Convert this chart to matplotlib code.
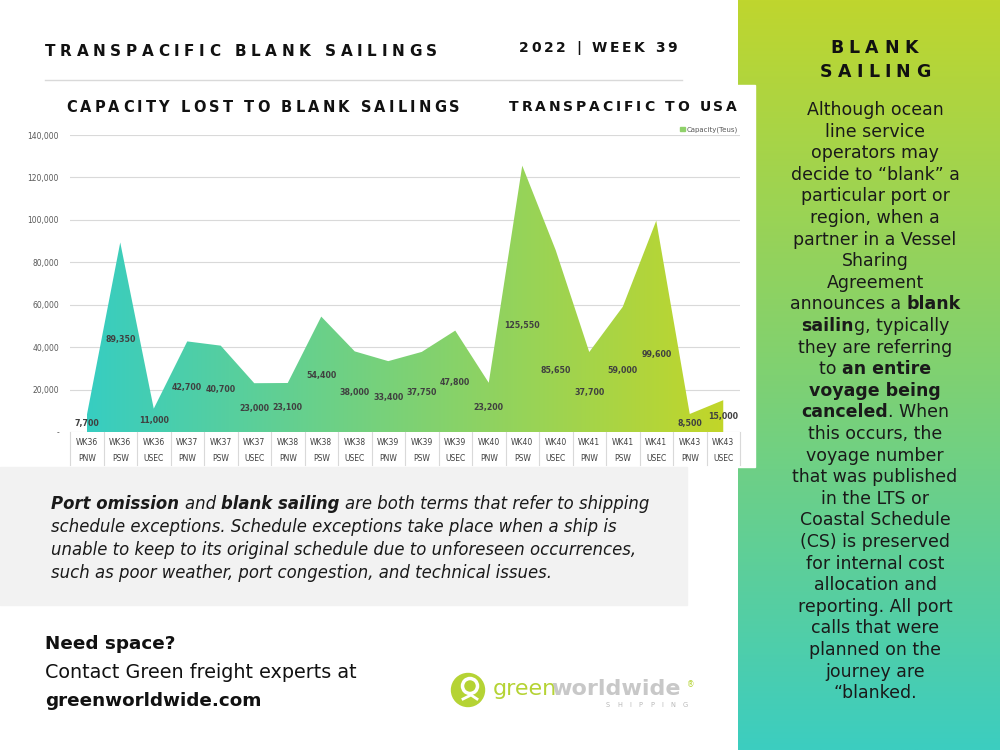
import numpy as np
import matplotlib
matplotlib.use("Agg")
import matplotlib.pyplot as plt
from matplotlib import transforms
from matplotlib.colors import LinearSegmentedColormap
from matplotlib.font_manager import FontProperties
from matplotlib.patches import Rectangle, Circle, Patch

FONT = "DejaVu Sans"
plt.rcParams["font.family"] = FONT

# data
weeks = ["WK36", "WK36", "WK36", "WK37", "WK37", "WK37", "WK38", "WK38", "WK38", "WK39",
         "WK39", "WK39", "WK40", "WK40", "WK40", "WK41", "WK41", "WK41", "WK43", "WK43"]
regions = ["PNW", "PSW", "USEC", "PNW", "PSW", "USEC", "PNW", "PSW", "USEC", "PNW",
           "PSW", "USEC", "PNW", "PSW", "USEC", "PNW", "PSW", "USEC", "PNW", "USEC"]
capacity = [7700, 89350, 11000, 42700, 40700, 23000, 23100, 54400, 38000, 33400,
            37750, 47800, 23200, 125550, 85650, 37700, 59000, 99600, 8500, 15000]
y_ticks = [0, 20000, 40000, 60000, 80000, 100000, 120000, 140000]

body_lines = [
    [("Although ocean", "normal")],
    [("line service", "normal")],
    [("operators may", "normal")],
    [("decide to \u201cblank\u201d a", "normal")],
    [("particular port or", "normal")],
    [("region, when a", "normal")],
    [("partner in a Vessel", "normal")],
    [("Sharing", "normal")],
    [("Agreement", "normal")],
    [("announces a ", "normal"), ("blank", "bold")],
    [("sailin", "bold"), ("g, typically", "normal")],
    [("they are referring", "normal")],
    [("to ", "normal"), ("an entire", "bold")],
    [("voyage being", "bold")],
    [("canceled", "bold"), (". When", "normal")],
    [("this occurs, the", "normal")],
    [("voyage number", "normal")],
    [("that was published", "normal")],
    [("in the LTS or", "normal")],
    [("Coastal Schedule", "normal")],
    [("(CS) is preserved", "normal")],
    [("for internal cost", "normal")],
    [("allocation and", "normal")],
    [("reporting. All port", "normal")],
    [("calls that were", "normal")],
    [("planned on the", "normal")],
    [("journey are", "normal")],
    [("\u201cblanked.", "normal")],
]

note_lines = [
    [("Port omission ", "bold"), ("and ", "normal"), ("blank sailing ", "bold"),
     ("are both terms that refer to shipping", "normal")],
    [("schedule exceptions. Schedule exceptions take place when a ship is", "normal")],
    [("unable to keep to its original schedule due to unforeseen occurrences,", "normal")],
    [("such as poor weather, port congestion, and technical issues.", "normal")],
]

fig = plt.figure(figsize=(10, 7.5), dpi=100)
renderer = fig.canvas.get_renderer()

# page layer in pixel units
bg = fig.add_axes([0, 0, 1, 1])
bg.axis("off")

panel_cmap = LinearSegmentedColormap.from_list("panel", ["#bfd62e", "#7fd172", "#3ccdc0"])
bg.imshow(np.linspace(0, 1, 256).reshape(-1, 1), cmap=panel_cmap, aspect="auto",
          extent=(738, 1000, 750, 0), origin="upper", zorder=0)
bg.add_patch(Rectangle((0, 85), 755, 382, color="white", zorder=1))
bg.add_patch(Rectangle((0, 467), 687, 138, color="#f2f2f2", zorder=1))
bg.plot([45, 682], [80, 80], color="#d9d9d9", lw=1, zorder=2)
bg.set_xlim(0, 1000)
bg.set_ylim(750, 0)


def text_width(s, size, weight="normal", style="normal"):
    fp = FontProperties(family=FONT, size=size, weight=weight, style=style)
    bar = renderer.get_text_width_height_descent("|", fp, ismath=False)[0]
    full = renderer.get_text_width_height_descent("|" + s + "|", fp, ismath=False)[0]
    return full - 2 * bar


def rich_line(x, y, parts, size, ha="left", style="normal", color="#1a1a1a"):
    widths = [text_width(t, size, w, style) for t, w in parts]
    x0 = x - sum(widths) / 2 if ha == "center" else x
    for (t, w), wd in zip(parts, widths):
        bg.text(x0, y, t, fontsize=size, fontweight=w, fontstyle=style, color=color,
                ha="left", va="center", zorder=3)
        x0 += wd


def tracked(x0, x1, y, s, size, color="#111111", weight="bold"):
    widths = [text_width(c, size, weight) for c in s]
    gap = (x1 - x0 - sum(widths)) / (len(s) - 1)
    x = x0
    for c, w in zip(s, widths):
        if c != " ":
            bg.text(x, y, c, fontsize=size, fontweight=weight, color=color,
                    ha="left", va="center", zorder=3)
        x += w + gap


# headings
tracked(45, 437, 51, "TRANSPACIFIC BLANK SAILINGS", 11)
tracked(519, 677, 48, "2022 | WEEK 39", 10)
tracked(66, 460, 108, "CAPACITY LOST TO BLANK SAILINGS", 10.5)
tracked(509, 737, 107, "TRANSPACIFIC TO USA", 10)
tracked(830, 918, 48, "BLANK", 12.5)
tracked(820, 930, 72, "SAILING", 12.5)

# right panel copy
for k, parts in enumerate(body_lines):
    rich_line(875, 110 + k * 21.6, parts, 12.5, ha="center")

# grey note
for k, parts in enumerate(note_lines):
    rich_line(51, 504 + k * 23, parts, 11.9, style="italic")

# contact block
bg.text(45, 644, "Need space?", fontsize=13.2, fontweight="bold", color="#111111", va="center")
bg.text(45, 673, "Contact Green freight experts at", fontsize=13.8, color="#111111", va="center")
bg.text(45, 701, "greenworldwide.com", fontsize=13.2, fontweight="bold", color="#111111", va="center")

# logo
bg.add_patch(Circle((468, 690), 16.5, color="#b5d334", zorder=3))
bg.add_patch(Circle((470, 686), 7.5, fill=False, ec="white", lw=2.5, zorder=4))
bg.plot([463, 471, 477], [699, 695, 699], color="white", lw=2, zorder=4)
rich_line(493, 689, [("green", "normal")], 16, color="#b5d334")
gw = text_width("green", 16)
rich_line(493 + gw - 6, 689, [("worldwide", "bold")], 16, color="#c8c8c8")
bg.text(691, 685, "\u00ae", fontsize=5.5, color="#b5d334", ha="center", va="center", zorder=3)
tracked(606, 688, 705, "SHIPPING", 4.8, color="#b8b8b8", weight="normal")

# chart
ax = fig.add_axes([0.07, 0.424, 0.67, 0.396])
ax.patch.set_alpha(0)
x = np.arange(len(capacity))
area = ax.fill_between(x, capacity, 0, color="none", lw=0)
area_cmap = LinearSegmentedColormap.from_list("area", ["#37cdc1", "#c2d629"])
im = ax.imshow(np.linspace(0, 1, 256).reshape(1, -1), cmap=area_cmap, aspect="auto",
               extent=(0, len(capacity) - 1, 0, max(capacity)), origin="lower", zorder=2)
im.set_clip_path(area.get_paths()[0], transform=ax.transData)

ax.set_xlim(-0.5, len(capacity) - 0.5)
ax.set_ylim(0, 140000)
ax.set_yticks(y_ticks)
ax.set_yticklabels(["-" if v == 0 else f"{v:,}" for v in y_ticks])
ax.set_xticks([])
ax.tick_params(axis="y", length=0, pad=8, labelsize=5.5, labelcolor="#595959")
ax.yaxis.grid(True, color="#d9d9d9", lw=0.8)
ax.set_axisbelow(True)
for s in ax.spines.values():
    s.set_visible(False)

# data labels sit inside the area
lift = np.full(len(capacity), 0.49)
lift[[13, 14, 17]] = [0.40, 0.34, 0.365]
for i, v in enumerate(capacity):
    ax.text(i, v * lift[i], f"{v:,}", ha="center", va="center", fontsize=5.7,
            fontweight="bold", color="#404040", zorder=4)

# category table under the axis
blend = transforms.blended_transform_factory(ax.transData, ax.transAxes)
for b in np.arange(-0.5, len(capacity)):
    ax.plot([b, b], [0, -0.112], transform=blend, color="#d9d9d9", lw=0.8, clip_on=False)
for i, (w, r) in enumerate(zip(weeks, regions)):
    ax.text(i, -0.034, w, transform=blend, ha="center", va="center", fontsize=5.5, color="#404040")
    ax.text(i, -0.088, r, transform=blend, ha="center", va="center", fontsize=5.5, color="#404040")

ax.legend(handles=[Patch(color="#8fd16a", label="Capacity(Teus)")], loc="lower right",
          bbox_to_anchor=(1.0, 1.0), frameon=False, fontsize=5, handlelength=0.7,
          handleheight=0.7, handletextpad=0.3, borderpad=0.1, borderaxespad=0.2,
          labelcolor="#595959")

fig.savefig("out.png", dpi=100)
